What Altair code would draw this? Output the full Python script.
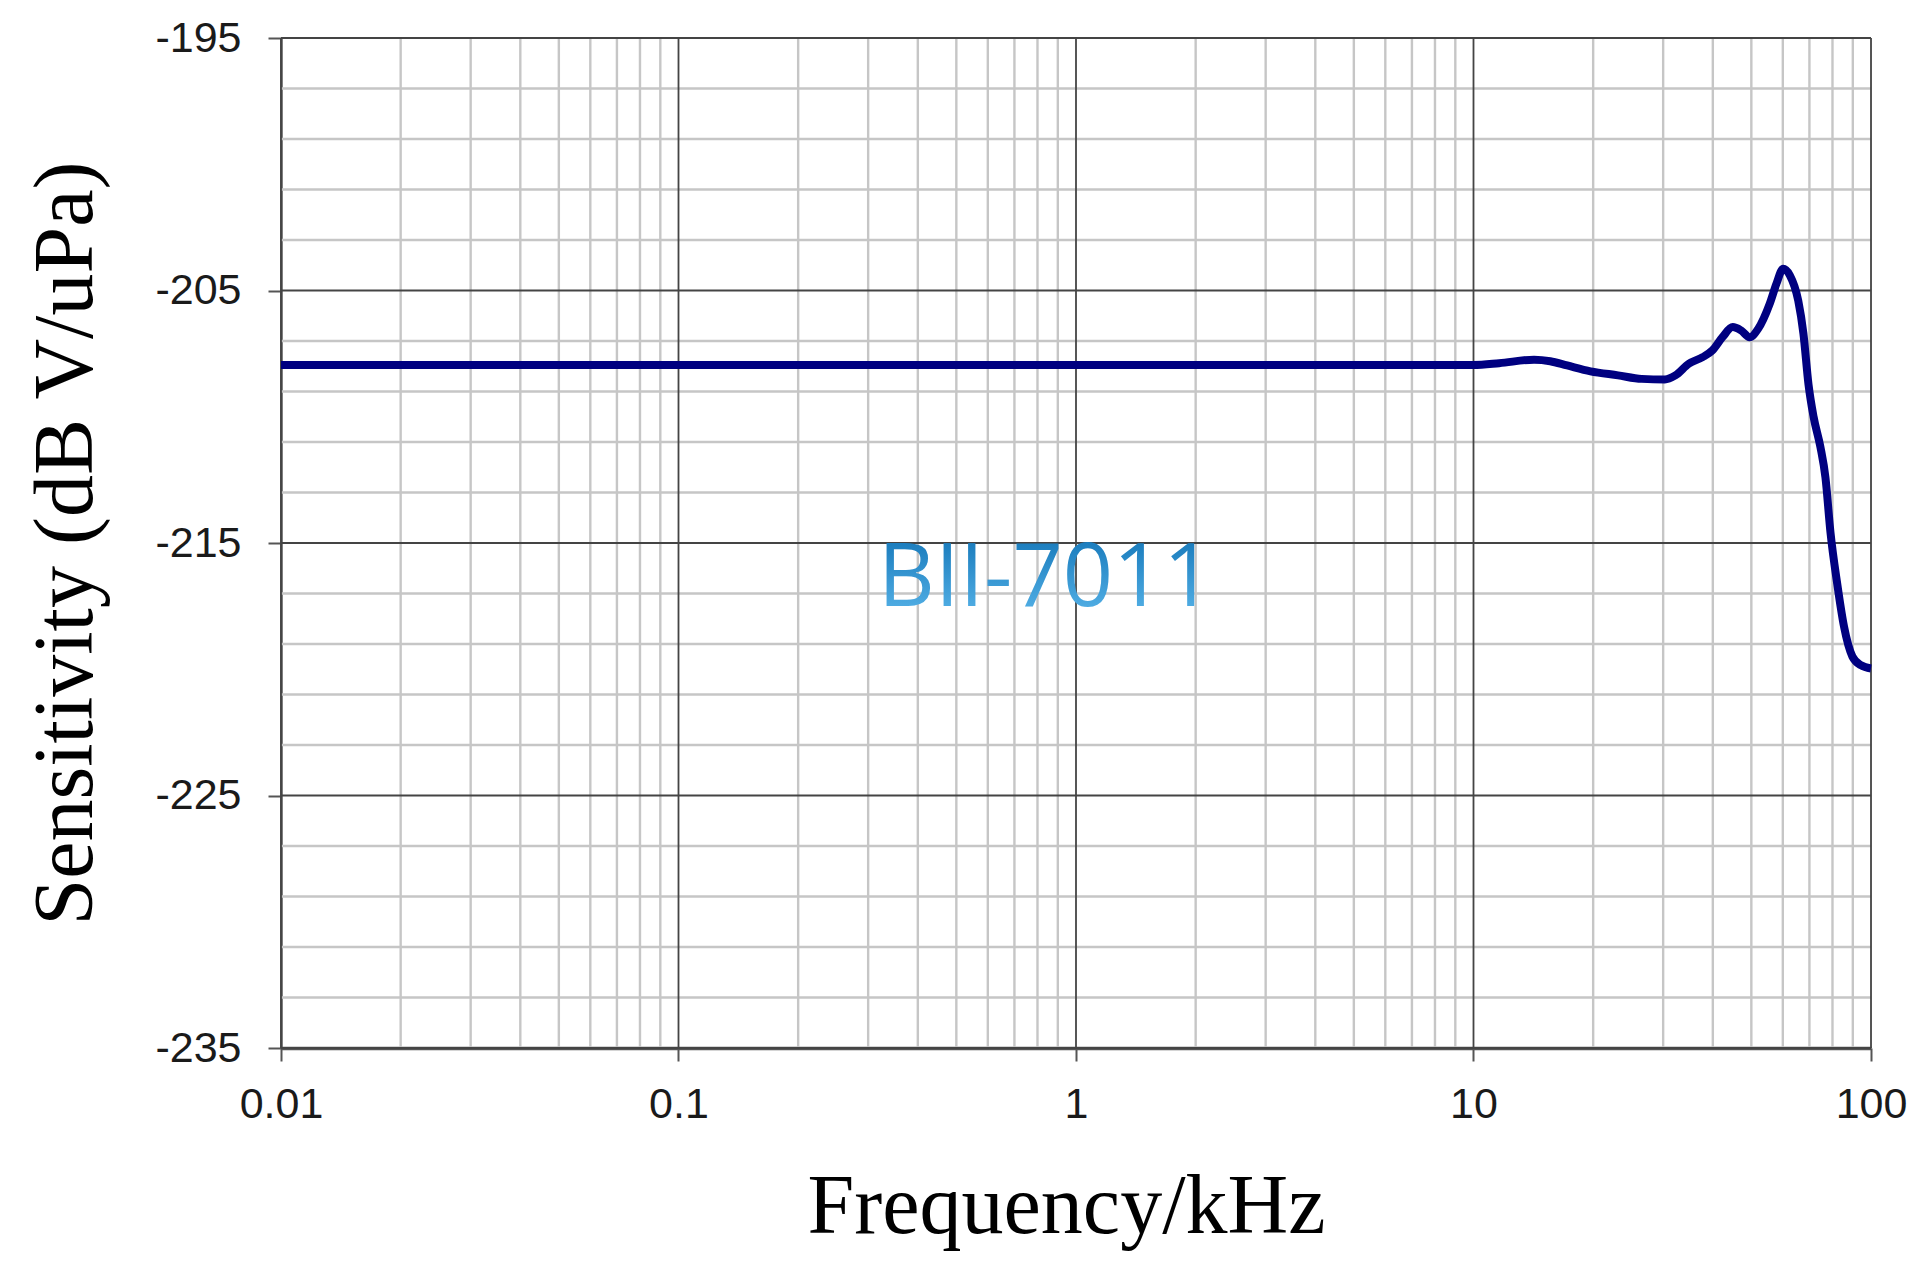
import altair as alt
import pandas as pd

# ---- data ----
freq_khz = [0.01, 10, 11.6, 14.2, 15.6, 17.2, 19.7, 23.1, 26.5, 30.3, 32.2, 34.8,
            37.7, 39.9, 42.3, 44.9, 47.1, 49.5, 52.0, 55.6, 57.8, 60.1, 62.5,
            65.6, 67.6, 69.6, 71.7, 74.6, 76.8, 79.1, 82.2, 85.5, 89.8, 94.3, 100]
sens_db = [-207.95, -207.95, -207.88, -207.74, -207.80, -207.97, -208.20, -208.36,
           -208.50, -208.52, -208.36, -207.90, -207.64, -207.37, -206.85, -206.45,
           -206.58, -206.85, -206.52, -205.53, -204.74, -204.14, -204.40, -205.40,
           -206.70, -208.70, -210.00, -211.20, -212.40, -214.60, -216.60, -218.30,
           -219.50, -219.84, -219.97]

x_major = [0.01, 0.1, 1, 10, 100]
x_minor = [m * d for d in [0.01, 0.1, 1, 10] for m in range(2, 10)]
y_major = [-235, -225, -215, -205, -195]
y_minor = [-233, -231, -229, -227, -223, -221, -219, -217, -213, -211, -209, -207,
           -203, -201, -199, -197]

watermark_text = ["BII-7011"]
watermark_x = [0.84]
watermark_y = [-217.5]

x_title = "Frequency/kHz"
y_title = "Sensitivity (dB V/uPa)"

# ---- scales / axes ----
xscale = alt.Scale(type="log", domain=[0.01, 100], nice=False)
yscale = alt.Scale(domain=[-235, -195], nice=False, zero=False)

xaxis = alt.Axis(values=x_major, labelExpr="'' + datum.value", grid=False,
                 title=x_title, titleFont="Liberation Serif", titleFontSize=84,
                 titleFontWeight="normal", titleColor="#000000",
                 titleBaseline="alphabetic", titleY=184, titleX=785,
                 labelFont="Liberation Sans", labelFontSize=43, labelColor="#1a1a1a",
                 labelPadding=22, tickSize=13, tickColor="#555555", tickWidth=2,
                 domainColor="#555555", domainWidth=3.5, labelFlush=False,
                 labelOverlap=False)
yaxis = alt.Axis(values=y_major, labelExpr="'' + datum.value", grid=False,
                 title=y_title, titleFont="Liberation Serif", titleFontSize=84,
                 titleFontWeight="normal", titleColor="#000000",
                 titleBaseline="middle", titleX=-215, titleY=505, titleAngle=-90,
                 labelFont="Liberation Sans", labelFontSize=43, labelColor="#1a1a1a",
                 labelPadding=27, tickSize=13, tickColor="#555555", tickWidth=2,
                 domainColor="#555555", domainWidth=2.5, labelFlush=False,
                 labelOverlap=False)

X = lambda: alt.X("f:Q", scale=xscale, axis=xaxis)
Y = lambda: alt.Y("s:Q", scale=yscale, axis=yaxis)

line_df = pd.DataFrame({"f": freq_khz, "s": sens_db})
xmin_df = pd.DataFrame({"f": x_minor})
xmaj_df = pd.DataFrame({"f": x_major})
ymin_df = pd.DataFrame({"s": y_minor})
ymaj_df = pd.DataFrame({"s": y_major})
wm_df = pd.DataFrame({"f": watermark_x, "s": watermark_y, "t": watermark_text})

minor_v = alt.Chart(xmin_df).mark_rule(color="#c6c6c6", strokeWidth=2.4).encode(x=X())
minor_h = alt.Chart(ymin_df).mark_rule(color="#c6c6c6", strokeWidth=2.4).encode(y=Y())
major_v = alt.Chart(xmaj_df).mark_rule(color="#444444", strokeWidth=1.8).encode(x=X())
major_h = alt.Chart(ymaj_df).mark_rule(color="#444444", strokeWidth=1.8).encode(y=Y())

watermark = alt.Chart(wm_df).mark_text(
    font="Open Sans", fontSize=88, align="center", baseline="alphabetic",
    color=alt.LinearGradient(gradient="linear", x1=0, y1=0, x2=0, y2=1,
                             stops=[alt.GradientStop(offset=0, color="#0468ad"),
                                    alt.GradientStop(offset=1, color="#62bdf0")]),
).encode(x=X(), y=Y(), text="t:N")

curve = alt.Chart(line_df).mark_line(color="#000080", strokeWidth=8,
                                     interpolate="monotone").encode(x=X(), y=Y())

chart = alt.layer(minor_v, minor_h, major_v, major_h, watermark, curve).properties(
    width=1590, height=1010,
    autosize=alt.AutoSizeParams(type="none"),
    padding={"left": 273, "top": 30, "right": 45, "bottom": 212},
).configure_view(stroke=None).configure(background="#ffffff")

chart.save("out.html", embed_options={"renderer": "svg", "actions": False})
